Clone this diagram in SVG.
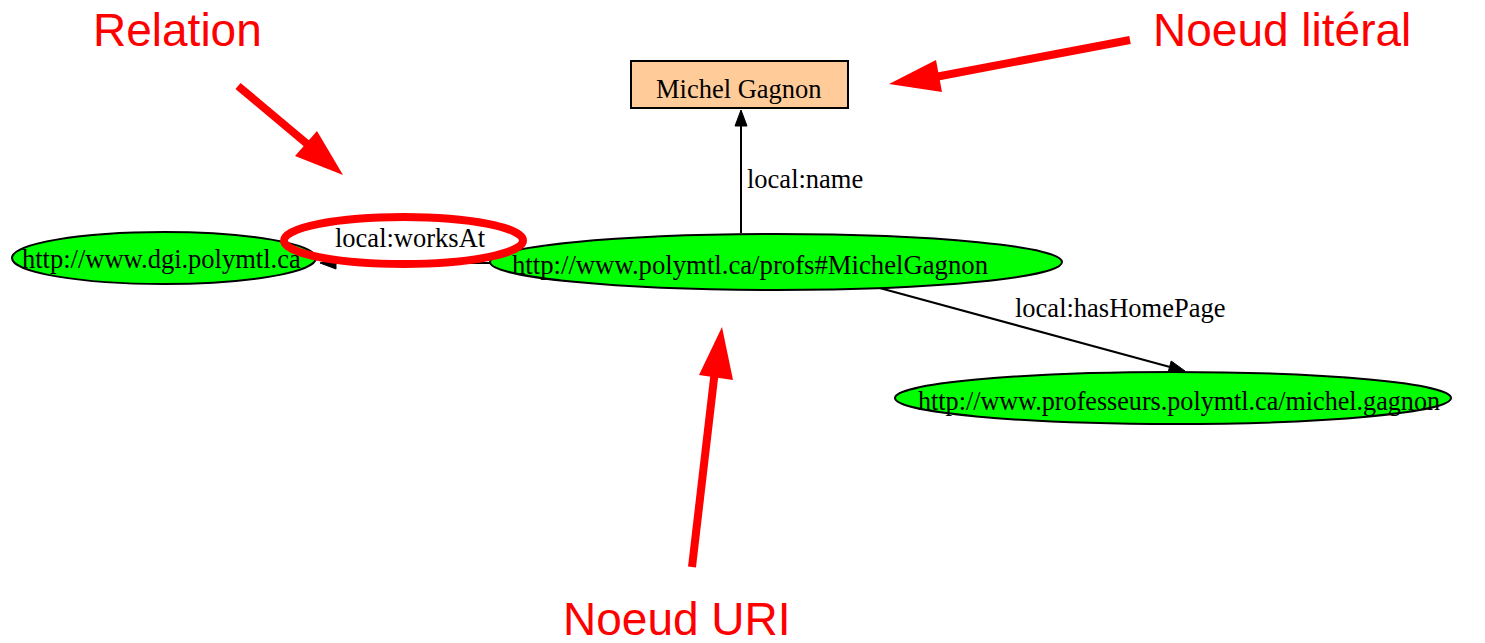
<svg xmlns="http://www.w3.org/2000/svg" width="1485" height="643" viewBox="0 0 1485 643">
<style>
.uri{fill:#00ff00;stroke:#000;stroke-width:2}
.lit{fill:#ffcc99;stroke:#000;stroke-width:2}
.t{font-family:"Liberation Serif","Times New Roman",serif;font-size:26.5px;fill:#000}
.edge{stroke:#000;stroke-width:2;fill:none}
.head{fill:#000;stroke:#000;stroke-width:1}
.ann{font-family:"Liberation Sans",Arial,sans-serif;font-size:46px;fill:#ff0000}
.rline{stroke:#ff0000;stroke-width:8;fill:none}
.rhead{fill:#ff0000}
</style>
<rect width="1485" height="643" fill="#fff"/>
<g id="connectors">
  <line class="edge" x1="741" y1="233" x2="741" y2="124"/>
  <polygon class="head" points="741,110 735,126 747,126"/>
  <text class="t" x="747" y="188">local:name</text>
  <line class="edge" x1="490" y1="263" x2="334" y2="263"/>
  <polygon class="head" points="320,263 336,257 336,269"/>
  <text class="t" x="335" y="247">local:worksAt</text>
  <line class="edge" x1="876" y1="287" x2="1170" y2="367"/>
  <polygon class="head" points="1185,371 1168,372.6 1171.2,361"/>
  <text class="t" x="1015" y="317">local:hasHomePage</text>
</g>
<g id="node-dgi">
  <ellipse class="uri" cx="164" cy="258" rx="152" ry="26"/>
  <text class="t" x="22" y="268">http://www.dgi.polymtl.ca</text>
</g>
<g id="node-michel">
  <ellipse class="uri" cx="776" cy="262" rx="286" ry="28"/>
  <text class="t" x="512" y="274" textLength="476" lengthAdjust="spacingAndGlyphs">http://www.polymtl.ca/profs#MichelGagnon</text>
</g>
<g id="node-home">
  <ellipse class="uri" cx="1173" cy="398" rx="278" ry="26"/>
  <text class="t" x="918" y="410" textLength="522" lengthAdjust="spacingAndGlyphs">http://www.professeurs.polymtl.ca/michel.gagnon</text>
</g>
<g id="node-name">
  <rect class="lit" x="631" y="61" width="217" height="47"/>
  <text class="t" x="656" y="98">Michel Gagnon</text>
</g>
<g id="annotations">
  <ellipse class="rline" cx="403.5" cy="240.5" rx="119.5" ry="23.5"/>
  <text class="ann" x="93" y="46">Relation</text>
  <line class="rline" x1="238" y1="86" x2="312" y2="148"/>
  <polygon class="rhead" points="343,175 295,156 317,131"/>
  <text class="ann" x="1153" y="46">Noeud litéral</text>
  <line class="rline" x1="1130" y1="40" x2="930" y2="78"/>
  <polygon class="rhead" points="889,84 936,60 942,92"/>
  <text class="ann" x="563" y="635">Noeud URI</text>
  <line class="rline" x1="692" y1="567" x2="715" y2="370"/>
  <polygon class="rhead" points="722,327 699,375 733,380"/>
</g>
</svg>
